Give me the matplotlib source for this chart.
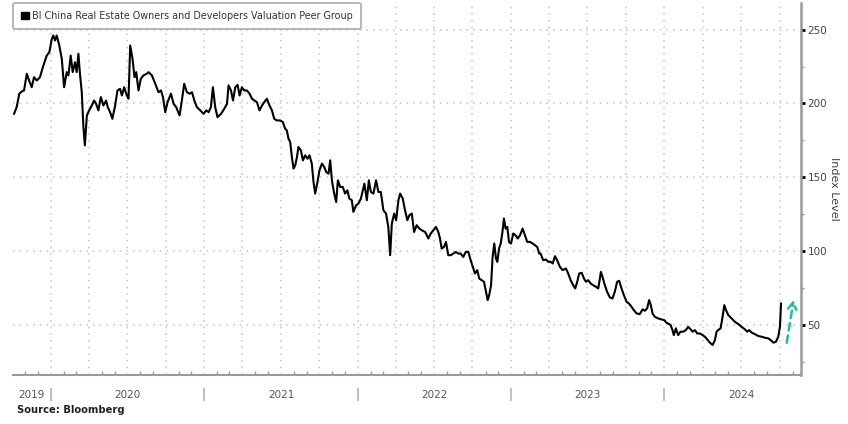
import numpy as np
import matplotlib.pyplot as plt
import matplotlib.dates as mdates
import matplotlib.ticker as mticker
from matplotlib.patches import Patch
import pandas as pd

# time in decimal years, value = index level
# Oct 2019 - Aug 2020
t1 = [2019.761, 2019.778, 2019.795, 2019.811, 2019.826, 2019.844, 2019.859, 2019.876, 2019.891, 2019.909,
      2019.930, 2019.952, 2019.974, 2019.991, 2020.007, 2020.017, 2020.028, 2020.039, 2020.056, 2020.072,
      2020.087, 2020.104, 2020.115, 2020.130, 2020.143, 2020.158, 2020.169, 2020.180, 2020.191, 2020.202,
      2020.212, 2020.222, 2020.235, 2020.250, 2020.267, 2020.282, 2020.295, 2020.310, 2020.326, 2020.343,
      2020.360, 2020.371, 2020.386, 2020.401, 2020.419, 2020.434, 2020.451, 2020.463, 2020.478, 2020.495,
      2020.506, 2020.517, 2020.532, 2020.545, 2020.556, 2020.571, 2020.586, 2020.603, 2020.625]
v1 = [193.0, 197.5, 206.6, 208.1, 208.8, 220.1, 215.5, 211.0, 217.8, 215.5,
      217.8, 225.7, 232.4, 234.7, 243.7, 246.0, 242.6, 246.0, 239.2, 230.2,
      211.0, 221.2, 219.0, 232.4, 221.2, 227.9, 221.2, 233.6, 219.0, 207.6,
      185.1, 171.6, 191.9, 195.3, 198.6, 202.0, 199.8, 195.3, 204.3, 198.6,
      202.0, 197.5, 194.1, 189.6, 198.6, 208.8, 209.9, 205.4, 211.0, 205.4,
      203.2, 239.2, 230.2, 217.8, 221.2, 208.8, 216.7, 219.0, 220.1]

# Aug 2020 - Jun 2021
t2 = [2020.636, 2020.658, 2020.680, 2020.701, 2020.717, 2020.730, 2020.745, 2020.760, 2020.782, 2020.799,
      2020.816, 2020.838, 2020.853, 2020.868, 2020.886, 2020.903, 2020.919, 2020.934, 2020.951, 2020.973,
      2020.994, 2021.012, 2021.027, 2021.042, 2021.055, 2021.070, 2021.085, 2021.108, 2021.129, 2021.147,
      2021.157, 2021.173, 2021.186, 2021.201, 2021.216, 2021.229, 2021.244, 2021.259, 2021.277, 2021.294,
      2021.310, 2021.325, 2021.342, 2021.359, 2021.375, 2021.390, 2021.407, 2021.424, 2021.440, 2021.455,
      2021.472]
v2 = [221.2, 219.0, 213.3, 207.6, 208.8, 204.3, 194.1, 200.9, 206.6, 199.8,
      197.5, 191.9, 202.0, 213.3, 207.6, 206.6, 207.6, 202.0, 197.5, 195.3,
      193.0, 195.3, 194.1, 197.5, 211.0, 197.5, 190.7, 193.0, 196.4, 199.8,
      212.2, 208.8, 202.0, 211.0, 212.6, 205.4, 211.0, 208.8, 208.8, 206.6,
      203.2, 202.0, 200.9, 195.3, 198.6, 200.9, 203.2, 198.6, 195.3, 189.6,
      188.5]

# Jun 2021 - May 2022
t3 = [2021.494, 2021.511, 2021.526, 2021.537, 2021.548, 2021.559, 2021.570, 2021.581, 2021.592, 2021.603,
      2021.613, 2021.629, 2021.642, 2021.657, 2021.672, 2021.685, 2021.700, 2021.711, 2021.722, 2021.737,
      2021.750, 2021.766, 2021.781, 2021.794, 2021.809, 2021.820, 2021.831, 2021.846, 2021.859, 2021.870,
      2021.885, 2021.902, 2021.917, 2021.932, 2021.945, 2021.961, 2021.971, 2021.989, 2022.004, 2022.020,
      2022.033, 2022.043, 2022.059, 2022.072, 2022.085, 2022.102, 2022.119, 2022.134, 2022.150, 2022.167,
      2022.184, 2022.199, 2022.211, 2022.222, 2022.237, 2022.250, 2022.265, 2022.276, 2022.293, 2022.308,
      2022.323, 2022.336]
v3 = [188.5, 187.4, 182.9, 181.8, 176.1, 173.9, 163.7, 155.9, 158.1, 163.7,
      170.5, 168.2, 161.5, 164.9, 162.6, 164.9, 159.3, 146.9, 139.0, 146.9,
      154.7, 159.3, 157.0, 153.6, 152.5, 161.5, 148.0, 139.0, 133.3, 148.0,
      143.5, 143.5, 139.0, 141.2, 135.6, 134.5, 126.6, 131.1, 132.2, 135.6,
      141.2, 145.7, 134.5, 148.0, 140.1, 139.0, 148.0, 140.1, 140.1, 127.7,
      125.5, 116.4, 97.3, 118.7, 125.5, 121.0, 134.5, 139.0, 135.6, 127.7,
      121.0, 124.3]

# May 2022 - Mar 2023
t4 = [2022.352, 2022.367, 2022.384, 2022.401, 2022.417, 2022.439, 2022.460, 2022.476, 2022.493, 2022.510,
      2022.525, 2022.536, 2022.547, 2022.562, 2022.575, 2022.590, 2022.606, 2022.623, 2022.640, 2022.655,
      2022.671, 2022.688, 2022.704, 2022.721, 2022.736, 2022.753, 2022.764, 2022.779, 2022.792, 2022.808,
      2022.823, 2022.836, 2022.847, 2022.857, 2022.869, 2022.879, 2022.890, 2022.901, 2022.910, 2022.921,
      2022.932, 2022.942, 2022.953, 2022.964, 2022.975, 2022.986, 2022.999, 2023.014, 2023.029, 2023.043,
      2023.058, 2023.075, 2023.090, 2023.105, 2023.123, 2023.140, 2023.155, 2023.170, 2023.183]
v4 = [125.5, 113.0, 117.6, 115.3, 114.2, 113.0, 108.6, 112.0, 114.2, 116.4,
      113.0, 108.6, 101.8, 102.9, 106.3, 97.3, 97.3, 98.4, 99.5, 98.4,
      98.4, 96.1, 99.5, 99.5, 93.9, 88.3, 84.9, 87.2, 81.5, 80.4,
      79.3, 72.5, 66.9, 70.3, 77.0, 96.1, 105.2, 95.0, 92.8, 101.8,
      105.2, 112.0, 122.1, 115.3, 116.4, 106.3, 105.2, 112.0, 110.8, 108.6,
      110.8, 115.3, 110.8, 106.3, 106.3, 105.2, 104.1, 102.9, 98.4]

# Mar 2023 - Jan 2024
t5 = [2023.192, 2023.209, 2023.227, 2023.242, 2023.258, 2023.271, 2023.286, 2023.300, 2023.318, 2023.336,
      2023.357, 2023.372, 2023.388, 2023.405, 2023.418, 2023.431, 2023.444, 2023.460, 2023.475, 2023.488,
      2023.503, 2023.518, 2023.535, 2023.553, 2023.568, 2023.579, 2023.585, 2023.596, 2023.611, 2023.626,
      2023.644, 2023.661, 2023.676, 2023.691, 2023.704, 2023.720, 2023.735, 2023.753, 2023.768, 2023.785,
      2023.800, 2023.818, 2023.839, 2023.857, 2023.872, 2023.887, 2023.900, 2023.911, 2023.922, 2023.937,
      2023.958, 2023.981, 2023.998, 2024.013, 2024.030]
v5 = [98.4, 93.9, 94.4, 92.8, 92.8, 91.7, 96.6, 93.9, 89.4, 87.2,
      88.3, 84.9, 80.4, 77.0, 74.8, 79.3, 84.9, 85.4, 81.5, 79.3,
      80.4, 78.2, 77.0, 75.9, 74.8, 81.5, 86.0, 82.6, 77.0, 72.5,
      68.7, 68.0, 72.5, 79.3, 80.0, 74.8, 70.3, 65.7, 64.6, 62.4,
      60.1, 57.9, 57.4, 60.6, 59.7, 61.3, 66.9, 63.5, 57.9, 55.6,
      54.5, 53.8, 53.4, 51.6, 50.7]

# Jan 2024 - Oct 2024
t6 = [2024.040, 2024.052, 2024.061, 2024.074, 2024.089, 2024.104, 2024.121, 2024.139, 2024.154, 2024.170,
      2024.183, 2024.198, 2024.213, 2024.230, 2024.248, 2024.263, 2024.278, 2024.295, 2024.313, 2024.328,
      2024.339, 2024.349, 2024.365, 2024.378, 2024.389, 2024.400, 2024.415, 2024.437, 2024.458, 2024.480,
      2024.502, 2024.523, 2024.538, 2024.551, 2024.567, 2024.589, 2024.610, 2024.632, 2024.654, 2024.675,
      2024.691, 2024.708, 2024.725, 2024.740, 2024.751, 2024.758]
v6 = [50.0, 46.6, 43.2, 47.8, 43.2, 45.5, 45.5, 46.6, 48.8, 47.1,
      45.5, 46.6, 44.3, 44.3, 43.2, 42.1, 40.3, 38.1, 36.5, 39.8,
      45.5, 46.6, 47.8, 55.6, 63.5, 60.1, 56.8, 54.5, 52.2, 50.7,
      48.8, 47.1, 45.5, 46.6, 44.9, 43.8, 42.6, 42.1, 41.4, 41.0,
      39.8, 38.1, 38.7, 42.1, 48.8, 64.6]

years = [2019, 2020, 2021, 2022, 2023, 2024]
series_name = "BI China Real Estate Owners and Developers Valuation Peer Group"
arrow_t = [2024.795, 2024.840]
arrow_v = [38.0, 67.0]
x_range = [2019.754, 2024.886]
y_range = [16, 268]


def to_date(y):
    y0 = int(np.floor(y))
    start = pd.Timestamp(year=y0, month=1, day=1)
    ndays = (pd.Timestamp(year=y0 + 1, month=1, day=1) - start).days
    return start + pd.Timedelta(days=(y - y0) * ndays)


t_all = t1 + t2 + t3 + t4 + t5 + t6
v_all = v1 + v2 + v3 + v4 + v5 + v6
dates = [to_date(t) for t in t_all]

W, H = 848, 424
fig = plt.figure(figsize=(W / 100, H / 100), dpi=100)
ax = fig.add_axes([13 / W, 48.7 / H, 787.7 / W, 372.3 / H])

ax.plot(dates, v_all, color='black', lw=1.5, solid_joinstyle='round')

ax.set_xlim(to_date(x_range[0]), to_date(x_range[1]))
ax.set_ylim(*y_range)

# spines
for s in ['top', 'left']:
    ax.spines[s].set_visible(False)
ax.spines['bottom'].set_color('#9a9a9a')
ax.spines['right'].set_color('#9a9a9a')
ax.spines['bottom'].set_linewidth(1.5)
ax.spines['right'].set_linewidth(1.8)

# x axis: quarterly grid, monthly minor ticks, year labels in the middle
ax.xaxis.set_major_locator(mdates.MonthLocator(bymonth=[1, 4, 7, 10]))
ax.xaxis.set_minor_locator(mdates.MonthLocator())
ax.xaxis.set_major_formatter(mticker.NullFormatter())
ax.tick_params(axis='x', which='major', length=0)
ax.tick_params(axis='x', which='minor', length=3, width=1, color='#9a9a9a', direction='in')

# y axis on the right
ax.yaxis.tick_right()
ax.yaxis.set_label_position('right')
ax.yaxis.set_major_locator(mticker.MultipleLocator(50))
ax.yaxis.set_minor_locator(mticker.MultipleLocator(25))
ax.tick_params(axis='y', which='major', length=3, width=2, color='black',
               labelsize=7.5, labelcolor='#444444', pad=2)
ax.tick_params(axis='y', which='minor', length=2, width=1, color='#9a9a9a')
ax.set_ylabel('Index Level', rotation=270, fontsize=8, color='#444444', labelpad=8)

ax.grid(True, which='major', axis='both', color='#cccccc', linestyle=(0, (1, 3)), lw=1.2)
ax.set_axisbelow(True)

xt = ax.get_xaxis_transform()
for y in years:
    lo = max(y, x_range[0])
    hi = min(y + 1, x_range[1])
    mid = to_date((lo + hi) / 2) if y != years[-1] else to_date(y + 0.5)
    ax.text(mid, -0.053, str(y), transform=xt, ha='center', va='center',
            fontsize=7.5, color='#555555')
    if y > years[0]:
        ax.plot([to_date(y), to_date(y)], [-0.037, -0.066], transform=xt,
                color='#c0c0c0', lw=1.5, clip_on=False)

# green dashed arrow
ax.annotate('', xy=(to_date(arrow_t[1]), arrow_v[1]), xytext=(to_date(arrow_t[0]), arrow_v[0]),
            arrowprops=dict(arrowstyle='->,head_length=0.5,head_width=0.3', color='#1fbf9c',
                            lw=1.8, linestyle=(0, (3, 2)), shrinkA=0, shrinkB=0))

leg = ax.legend(handles=[Patch(facecolor='black', edgecolor='black', label=series_name)],
                loc='upper left', bbox_to_anchor=(0, 1), borderaxespad=0, fontsize=6.9,
                handlelength=0.8, handleheight=0.8, handletextpad=0.3, borderpad=0.85,
                fancybox=True, framealpha=1, edgecolor='#aaaaaa')
leg.get_frame().set_linewidth(1.2)
for txt in leg.get_texts():
    txt.set_color('#333333')

fig.text(17 / W, 1 - 410 / H, 'Source: Bloomberg', fontsize=7.2, fontweight='bold',
         color='#222222', ha='left', va='center')

fig.savefig('out.png', dpi=100)
